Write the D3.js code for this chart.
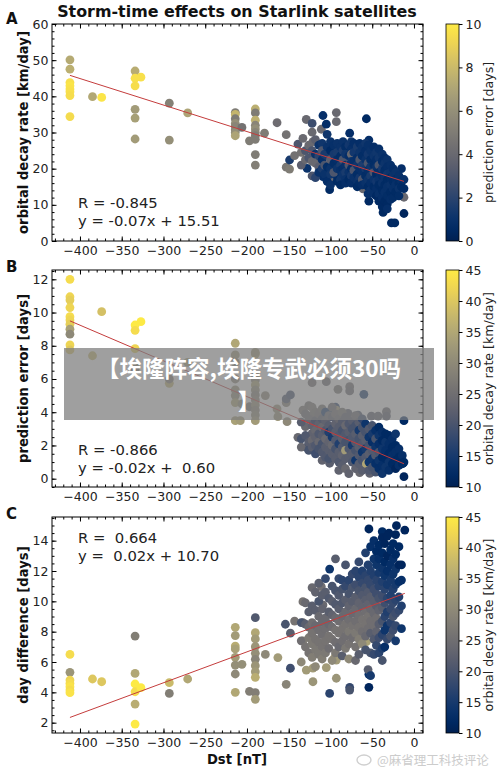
<!DOCTYPE html>
<html>
<head>
<meta charset="utf-8">
<script src="https://cdn.jsdelivr.net/npm/d3@7"></script>
<style>
body { margin: 0; background: #fff; }
svg { display: block; font-family: "DejaVu Sans", sans-serif; }
</style>
</head>
<body>
<svg id="fig" width="500" height="769"></svg>
<script>
// [Dst nT, orbital decay rate km/day, prediction error days]
const decayPoints = [
  [-412,50.1,7.3],[-412,47.5,7.5],[-412,43.8,9.6],[-412,42.9,9.8],[-412,42.0,9.7],[-412,41.3,9.6],[-412,40.2,9.5],[-412,34.4,9.4],
  [-385,39.9,7.2],[-374,39.7,9.8],
  [-334,47.0,7.4],[-334,45.0,9.6],[-334,42.9,9.5],[-334,36.4,6.6],[-334,34.0,6.8],[-334,28.2,6.6],[-327,45.3,9.6],
  [-293,38.1,5.3],[-293,27.9,6.0],[-271,35.4,7.0],
  [-214,35.5,5.0],[-214,35.0,7.8],[-214,33.8,5.0],[-214,32.5,6.0],[-214,31.7,5.5],[-214,30.7,5.5],[-214,30.0,6.0],[-214,29.1,7.0],[-206,31.4,4.5],
  [-197,27.7,5.0],
  [-190,36.5,7.5],[-190,35.4,5.0],[-190,33.4,7.6],[-190,32.0,5.5],[-190,31.0,6.0],[-190,30.0,5.5],[-190,29.1,5.0],[-190,28.1,5.0],[-190,23.9,5.0],[-190,21.0,5.2],
  [-179,29.8,5.0],[-164,32.7,4.2],[-153,29.4,4.5],[-153,20.4,4.8],[-149,19.9,5.0],[-149,22.4,1.5],[-143,23.6,4.5],[-139,26.8,3.0],[-133,28.4,4.0],
  [-129,33.6,4.0],[-128,20.1,1.0],[-122,32.5,2.5],[-122,30.1,4.0],[-121,27.5,4.0],[-111,30.9,4.0],[-109,34.7,0.8],[-105,32.3,0.7],
  [-109,17.8,0.8],[-101,17.1,4.0],[-101,14.2,0.6],[-93,35.5,4.0],[-93,33.0,4.0],[-92,17.8,0.8],
  [-77,29.8,0.8],[-57,33.8,0.5],[-54,27.9,0.8],[-61,14.4,4.0],[-54,11.0,0.5],[-37,7.9,0.5],[-27,5.0,0.5],[-23,5.0,0.5],
  [-12,7.6,0.3],[-12,12.1,4.0],[-15,20.0,0.8],
  [-135,24.5,4.5],[-135,21.0,3.5],[-130,25.0,3.0],[-130,22.5,4.0],[-126,26.5,4.0],[-126,23.0,3.0],
  [-122,25.0,3.0],[-122,22.0,4.0],[-122,18.0,3.0],[-118,28.0,3.5],[-118,24.0,1.0],[-118,21.5,4.0],[-118,17.5,2.0],
  [-114,26.5,1.0],[-114,23.5,2.0],[-114,20.5,3.5],[-114,19.0,1.0],[-110,27.0,1.2],[-110,25.0,3.0],[-110,22.5,0.8],[-110,20.0,1.5],
  [-107,24.0,1.5],[-107,21.0,3.0],[-107,18.5,1.0],[-104,29.5,1.2],[-104,26.0,1.0],[-104,23.5,1.5],[-104,20.5,0.7],[-104,16.5,0.8],
  [-100,27.5,1.0],[-100,25.0,0.6],[-100,22.5,3.5],[-100,20.0,1.0],[-100,18.5,1.2],[-100,15.5,1.0],
  [-96,26.5,0.9],[-96,24.0,1.4],[-96,21.5,0.7],[-96,19.0,3.0],[-92,27.0,1.0],[-92,24.5,1.5],[-92,22.5,0.8],[-92,20.0,1.1],[-92,16.5,0.6],
  [-88,26.0,1.0],[-88,23.5,0.7],[-88,21.0,1.5],[-88,19.5,0.9],[-88,17.0,1.2],[-88,15.5,0.6],
  [-85,27.5,1.0],[-85,25.0,1.6],[-85,22.5,3.0],[-85,20.0,0.8],[-85,18.5,1.1],
  [-82,26.0,0.7],[-82,24.0,1.2],[-82,21.0,0.9],[-82,19.0,1.5],[-82,17.0,1.0],[-82,16.0,0.8],
  [-78,26.5,1.3],[-78,23.5,0.8],[-78,21.0,3.0],[-78,19.0,1.0],[-78,17.0,0.6],
  [-75,27.5,1.2],[-75,25.5,0.9],[-75,24.0,4.0],[-75,22.0,1.1],[-75,20.0,0.7],[-75,18.0,1.4],[-75,16.0,0.8],
  [-72,27.0,0.8],[-72,24.5,1.3],[-72,22.0,0.9],[-72,19.5,3.0],[-72,17.5,1.0],
  [-68,26.0,1.5],[-68,23.0,0.8],[-68,21.0,1.2],[-68,18.5,0.7],[-68,16.5,1.0],[-68,15.0,0.6],
  [-65,27.0,0.8],[-65,24.5,1.1],[-65,22.5,3.0],[-65,20.0,0.9],[-65,17.5,1.3],[-65,16.0,0.7],
  [-62,26.0,1.0],[-62,23.5,0.7],[-62,21.0,1.6],[-62,19.0,0.9],[-62,17.0,3.0],[-62,15.5,0.8],
  [-58,27.0,1.2],[-58,25.0,0.8],[-58,22.5,1.0],[-58,20.0,1.4],[-58,18.0,0.7],[-58,16.0,1.0],
  [-55,26.5,0.9],[-55,24.0,1.3],[-55,21.5,3.0],[-55,19.5,0.8],[-55,17.0,1.1],[-55,15.0,0.6],[-55,13.0,0.9],
  [-52,25.0,1.0],[-52,22.5,0.7],[-52,20.5,1.2],[-52,18.0,1.5],[-52,16.0,0.8],[-52,14.0,1.0],
  [-48,26.0,0.8],[-48,23.5,1.1],[-48,21.0,0.7],[-48,19.0,3.0],[-48,17.0,1.0],[-48,15.0,0.6],[-48,13.0,0.9],
  [-45,24.5,1.2],[-45,22.5,0.8],[-45,20.5,1.0],[-45,18.5,0.6],[-45,16.5,1.3],[-45,14.5,0.8],[-45,12.5,0.5],
  [-42,25.5,0.9],[-42,23.0,1.2],[-42,21.0,3.0],[-42,19.0,0.8],[-42,17.0,1.0],[-42,15.5,0.6],[-42,13.0,0.9],[-42,11.0,0.5],
  [-38,24.0,1.0],[-38,22.0,0.7],[-38,20.0,1.4],[-38,18.0,0.8],[-38,16.0,1.0],[-38,14.0,0.6],[-38,12.0,0.8],[-38,9.5,0.5],
  [-35,23.0,0.8],[-35,21.5,1.1],[-35,19.5,0.7],[-35,17.5,1.0],[-35,15.5,0.6],[-35,13.5,0.9],[-35,11.0,0.5],
  [-32,22.5,1.0],[-32,20.5,0.8],[-32,18.5,1.2],[-32,17.0,0.6],[-32,15.0,0.9],[-32,12.5,0.7],[-32,10.2,0.5],[-32,8.9,0.8],
  [-28,21.0,0.9],[-28,19.0,1.1],[-28,17.5,0.7],[-28,15.5,1.0],[-28,13.5,0.6],[-28,11.5,0.8],
  [-25,20.0,0.8],[-25,18.0,1.0],[-25,16.5,0.6],[-25,14.5,0.9],[-25,12.0,0.7],
  [-22,19.0,1.0],[-22,17.0,0.7],[-22,15.5,0.9],[-22,13.5,0.6],
  [-18,18.0,0.9],[-18,16.0,0.6],[-18,14.5,1.0],[-18,12.5,0.7],
  [-15,16.5,0.8],[-15,15.0,0.6],[-12,17.0,0.9],[-12,14.5,0.6]
];

// [Dst nT, prediction error days, orbital decay rate km/day]
const errorPoints = [
  [-412,12.0,43],[-412,10.95,42],[-412,10.75,41],[-412,10.3,42],[-412,9.75,43],[-412,9.55,42],[-412,9.3,41],[-412,9.0,34],[-412,8.7,30],
  [-412,8.05,42],[-412,7.75,40],
  [-385,7.4,38],[-374,10.05,39],
  [-334,9.25,45],[-334,8.93,43],[-334,7.83,42],[-327,9.45,45],[-334,6.6,36],[-334,6.8,34],[-334,6.6,28],
  [-293,5.74,37],[-293,6.0,28],[-271,7.0,35],
  [-214,8.15,35],[-214,7.45,33],[-214,7.0,31],[-214,6.0,30],[-214,5.34,32],[-214,5.0,31],[-214,4.58,35],[-214,3.49,34],[-208,3.49,33],
  [-206,4.5,31],[-197,4.33,27],
  [-190,7.5,36],[-190,7.6,33],[-190,6.18,32],[-190,5.94,30],[-190,5.64,35],[-190,5.34,31],[-190,5.04,29],[-190,4.74,30],[-190,4.43,32],
  [-190,4.13,30],[-190,3.83,31],[-190,3.49,33],
  [-178,5.0,30],[-163,3.73,32],[-164,4.2,32],[-153,4.58,29],[-153,4.8,20],[-148,5.04,19],[-152,3.43,30],[-139,2.49,24],[-129,1.89,20],
  [-122,5.78,25],[-105,5.84,24],[-133,4.13,27],[-122,3.83,26],[-130,3.13,24],[-116,3.13,22],[-122,2.73,23],[-99,4.03,15],[-94,4.3,16],
  [-91,5.38,26],[-77,5.54,25],[-77,5.28,24],[-60,5.08,14],[-51,3.77,22],[-43,3.77,23],[-33,4.03,24],[-33,3.77,22],[-12,3.49,12],
  [-93,4.13,33],[-79,3.93,22],[-67,3.83,20],
  [-65,0.36,24],[-53,0.32,23],[-35,0.72,13],[-12,0.12,11],[-13,0.93,12],[-23,1.43,12],[-101,0.93,22],
  [-135,3.4,22],[-135,2.4,20],[-135,1.9,24],[-130,3.9,24],[-130,2.6,21],[-126,4.4,26],[-126,3.6,24],[-126,2.2,22],[-126,1.7,20],
  [-122,4.3,27],[-122,3.2,23],[-122,2.3,24],[-122,1.9,22],[-118,4.0,26],[-118,3.5,22],[-118,2.9,24],[-118,2.5,23],[-118,2.0,21],[-118,1.5,19],
  [-114,3.9,25],[-114,3.3,23],[-114,2.7,21],[-114,2.2,24],[-114,1.8,20],
  [-110,4.2,26],[-110,3.6,22],[-110,3.1,24],[-110,2.6,22],[-110,2.1,20],[-110,1.6,21],[-110,1.1,23],
  [-106,4.0,14],[-106,3.5,23],[-106,2.9,21],[-106,2.4,24],[-106,1.9,22],[-106,1.3,21],
  [-102,3.8,24],[-102,3.2,22],[-102,2.8,16],[-102,2.2,23],[-102,1.7,22],[-102,1.2,20],
  [-98,4.3,24],[-98,3.7,22],[-98,3.0,20],[-98,2.5,15],[-98,2.0,24],[-98,1.5,22],
  [-94,3.9,25],[-94,3.3,23],[-94,2.8,22],[-94,2.3,21],[-94,1.8,20],[-94,1.2,22],
  [-90,3.6,24],[-90,3.1,22],[-90,2.6,21],[-90,2.1,16],[-90,1.6,22],[-90,1.0,21],[-90,0.5,23],
  [-86,4.0,26],[-86,3.4,22],[-86,2.9,20],[-86,2.4,22],[-86,1.9,21],[-86,1.4,23],[-86,0.8,22],
  [-82,3.7,22],[-82,3.2,24],[-82,2.7,21],[-82,2.2,20],[-82,1.7,33],[-82,1.2,22],[-82,0.6,24],
  [-78,3.3,21],[-78,2.8,22],[-78,2.3,20],[-78,1.8,21],[-78,1.3,22],[-78,0.3,23],
  [-74,3.5,22],[-74,3.0,20],[-74,2.5,21],[-74,2.0,15],[-74,1.5,22],[-74,1.0,21],
  [-70,3.8,24],[-70,3.2,20],[-70,2.7,22],[-70,2.2,21],[-70,1.7,20],[-70,1.1,14],[-70,0.6,23],
  [-66,3.4,22],[-66,2.9,15],[-66,2.4,20],[-66,1.9,22],[-66,1.4,21],[-66,0.9,22],
  [-62,3.6,18],[-62,3.1,20],[-62,2.6,22],[-62,2.1,21],[-62,1.6,14],[-62,1.1,20],[-62,0.5,22],
  [-58,3.3,14],[-58,2.8,20],[-58,2.3,22],[-58,1.8,15],[-58,1.3,21],[-57,0.9,35],
  [-54,3.0,21],[-54,2.5,14],[-54,2.0,20],[-54,1.5,22],[-54,1.0,14],[-54,0.5,21],
  [-50,3.2,20],[-50,2.7,15],[-50,2.2,13],[-50,1.7,21],[-50,1.2,14],[-50,0.7,20],
  [-46,2.9,13],[-46,2.4,20],[-46,1.9,14],[-46,1.4,21],[-46,0.9,13],[-46,0.4,20],
  [-42,3.1,12],[-42,2.6,14],[-42,2.1,13],[-42,1.6,20],[-42,1.1,14],[-42,0.6,13],
  [-38,2.8,13],[-38,2.3,12],[-38,1.8,14],[-38,1.3,12],[-38,0.8,13],[-38,0.3,14],
  [-34,2.7,12],[-34,2.2,14],[-34,1.7,13],[-34,1.2,12],[-34,0.7,14],
  [-30,2.6,12],[-30,2.1,13],[-30,1.5,12],[-30,1.0,14],[-30,0.5,13],
  [-26,2.4,13],[-26,1.9,12],[-26,1.4,13],[-26,0.9,12],
  [-22,2.7,14],[-22,2.0,12],[-22,1.6,13],[-22,1.1,12],[-22,0.6,11],
  [-18,1.8,13],[-18,1.3,12],[-18,0.8,13],[-14,1.4,13],[-14,0.9,12],[-12,1.0,12]
];

// [Dst nT, day difference days, orbital decay rate km/day]
const diffPoints = [
  [-412,6.5,43],[-412,5.32,32],[-412,4.81,42],[-412,4.59,43],[-412,4.37,44],[-412,4.15,43],[-412,3.98,44],
  [-385,4.88,40],[-374,4.7,40],
  [-334,7.71,28],[-334,5.25,35],[-334,4.55,45],[-334,4.04,43],[-334,3.23,36],[-334,1.91,45],[-327,4.31,45],
  [-293,4.64,38],[-293,3.93,28],[-271,4.88,35],
  [-214,8.29,35],[-214,7.74,33],[-214,7.05,36],[-214,6.86,34],[-214,6.31,33],[-214,5.8,31],[-214,5.21,30],[-214,4.0,35],[-206,5.85,31],
  [-197,4.07,28],
  [-190,8.92,21],[-190,7.93,35],[-190,7.52,33],[-190,7.01,32],[-190,6.57,31],[-190,6.18,29],[-190,5.76,32],[-190,5.36,33],[-190,4.99,36],
  [-190,3.98,28],[-190,3.54,33],
  [-178,6.5,30],[-163,6.29,33],[-153,4.53,29],[-154,8.49,20],[-148,5.59,19],[-148,7.9,22],
  [-143,8.7,26],[-133,8.6,25],[-133,9.98,26],[-133,7.39,29],[-129,5.47,33],[-121,4.7,32],[-121,5.6,33],[-105,5.63,33],[-95,6.29,33],
  [-93,4.93,32],[-93,6.13,33],[-101,3.93,17],[-101,12.13,14],[-77,4.33,18],[-77,4.15,20],[-54,4.33,11],[-54,5.19,13],[-57,7.34,34],
  [-111,10.97,25],[-109,9.76,24],
  [-54,14.77,11],[-21,14.99,11],[-11,14.7,11],[-38,14.6,12],[-30,14.5,11],
  [-135,8.6,20],[-135,7.4,25],[-135,6.0,30],[-130,9.9,24],[-130,8.5,22],[-130,7.0,26],[-126,9.3,22],[-126,8.3,24],[-126,7.6,27],[-126,6.6,26],
  [-122,10.9,24],[-122,9.7,22],[-122,8.6,25],[-122,7.9,26],[-122,7.2,27],[-122,6.3,28],
  [-118,10.6,23],[-118,9.4,22],[-118,8.4,24],[-118,7.5,26],[-118,6.8,27],[-118,5.7,30],
  [-114,11.2,22],[-114,10.0,20],[-114,9.0,24],[-114,8.1,25],[-114,7.3,26],[-114,6.5,27],
  [-110,10.4,22],[-110,9.5,23],[-110,8.6,24],[-110,7.8,25],[-110,7.0,26],[-110,6.2,28],
  [-106,11.5,18],[-106,10.6,22],[-106,8.9,24],[-106,8.2,25],[-106,7.4,26],[-106,6.6,27],
  [-102,10.2,21],[-102,9.3,22],[-102,8.5,24],[-102,7.7,26],[-102,6.9,25],
  [-98,11.0,20],[-98,10.0,22],[-98,9.1,23],[-98,8.3,25],[-98,7.5,26],[-98,6.1,30],
  [-94,12.8,22],[-94,10.7,20],[-94,9.8,21],[-94,8.9,24],[-94,8.1,26],[-94,7.3,25],[-94,6.6,27],
  [-90,11.5,18],[-90,10.4,21],[-90,9.5,22],[-90,8.7,25],[-90,7.9,26],[-90,7.0,24],
  [-86,11.4,17],[-86,10.8,20],[-86,9.9,21],[-86,9.0,24],[-86,8.2,26],[-86,7.4,25],[-86,6.4,22],
  [-82,12.4,20],[-82,11.0,18],[-82,10.1,22],[-82,9.3,24],[-82,8.5,26],[-82,7.7,25],[-82,6.9,27],
  [-78,11.4,17],[-78,10.5,20],[-78,9.7,23],[-78,8.8,25],[-78,8.0,27],[-78,7.2,26],[-78,6.2,30],
  [-74,11.8,18],[-74,10.9,20],[-74,10.0,22],[-74,9.2,24],[-74,8.4,26],[-74,7.6,25],
  [-70,12.0,17],[-70,11.1,19],[-70,10.3,22],[-70,9.5,24],[-70,8.7,25],[-70,7.9,27],[-70,7.0,26],[-70,6.1,24],
  [-66,12.6,18],[-66,11.6,17],[-66,10.7,20],[-66,9.9,23],[-66,9.1,25],[-66,8.3,26],[-66,7.5,28],[-66,6.5,22],
  [-62,12.0,16],[-62,11.2,18],[-62,10.4,21],[-62,9.6,23],[-62,8.8,26],[-62,8.0,25],[-62,7.2,30],
  [-58,13.2,16],[-58,11.7,17],[-58,10.9,20],[-58,10.1,22],[-58,9.3,25],[-58,8.5,26],[-58,7.7,24],[-58,6.8,20],
  [-55,12.4,16],[-55,11.4,18],[-55,10.6,21],[-55,9.8,23],[-55,9.0,26],[-55,8.2,25],[-55,5.5,22],
  [-52,13.6,13],[-52,12.0,16],[-52,11.1,18],[-52,10.3,22],[-52,9.5,24],[-52,8.7,25],[-52,7.9,22],[-52,6.6,20],[-52,5.1,15],
  [-48,14.0,13],[-48,12.8,14],[-48,11.7,16],[-48,10.8,19],[-48,10.0,22],[-48,9.2,24],[-48,8.4,25],[-48,7.5,21],[-48,6.5,18],
  [-45,13.3,12],[-45,12.4,14],[-45,11.4,17],[-45,10.5,19],[-45,9.7,22],[-45,8.9,25],[-45,8.0,23],[-45,7.1,18],
  [-42,13.7,12],[-42,12.8,13],[-42,11.9,15],[-42,11.0,17],[-42,10.2,20],[-42,9.4,23],[-42,8.5,22],[-42,7.6,19],[-42,6.6,17],
  [-38,14.2,11],[-38,13.2,12],[-38,12.2,14],[-38,11.3,16],[-38,10.4,19],[-38,9.6,22],[-38,8.7,20],[-38,7.8,17],[-38,6.9,16],[-38,6.1,20],
  [-35,13.8,11],[-35,12.6,12],[-35,11.7,14],[-35,10.8,17],[-35,9.9,19],[-35,9.0,17],[-35,8.1,14],[-35,7.0,13],
  [-32,14.3,11],[-32,13.0,11],[-32,12.0,13],[-32,11.1,15],[-32,10.2,17],[-32,9.3,16],[-32,8.4,14],[-32,7.5,18],
  [-28,13.4,12],[-28,12.4,13],[-28,11.4,15],[-28,10.4,16],[-28,9.5,18],[-28,8.6,17],[-28,7.7,20],
  [-25,13.8,12],[-25,12.8,13],[-25,11.8,14],[-25,10.8,16],[-25,9.9,18],[-25,9.0,20],[-25,8.1,19],
  [-22,14.4,11],[-22,13.1,12],[-22,12.1,14],[-22,11.1,15],[-22,10.1,17],[-22,9.2,19],[-22,8.4,18],[-22,7.4,15],
  [-18,13.6,12],[-18,12.4,11],[-18,11.3,13],[-18,10.3,16],[-18,9.4,18],
  [-15,12.4,11],[-15,11.4,13],[-15,9.7,16],[-15,8.2,14]
];

const dstTicks = [-400, -350, -300, -250, -200, -150, -100, -50, 0];
const decayTicks = [0, 10, 20, 30, 40, 50, 60];
const errorTicks = [0, 2, 4, 6, 8, 10, 12];
const diffTicks = [2, 4, 6, 8, 10, 12, 14];
const errorBarTicks = [0, 2, 4, 6, 8, 10];
const decayBarTicks = [10, 15, 20, 25, 30, 35, 40, 45];

// linear fits: [slope, intercept] and the printed labels
const fitDecay = [-0.0733, 15.6];
const fitError = [-0.0215, 0.64];
const fitDiff = [0.0204, 10.75];
const labelsDecay = ["R = -0.845", "y = -0.07x + 15.51"];
const labelsError = ["R = -0.866", "y = -0.02x +  0.60"];
const labelsDiff = ["R =  0.664", "y =  0.02x + 10.70"];

const svg = d3.select("#fig");
const x = d3.scaleLinear().domain([-433.5, 10.8]).range([52, 423]);
const tickFont = 12.5;

const panels = [
  { letter: "A", letterY: 24, top: 24, bottom: 241, yDomain: [0, 60], yTicks: decayTicks, yMinor: 2,
    ylabel: "orbital decay rate [km/day]", data: decayPoints, cDomain: [0, 10], cTicks: errorBarTicks,
    clabel: "prediction error [days]", fit: fitDecay, labels: labelsDecay, labelY: 208 },
  { letter: "B", letterY: 272, top: 270, bottom: 487, yDomain: [-0.5, 12.56], yTicks: errorTicks, yMinor: 0.5,
    ylabel: "prediction error [days]", data: errorPoints, cDomain: [10, 45], cTicks: decayBarTicks,
    clabel: "orbital decay rate [km/day]", fit: fitError, labels: labelsError, labelY: 455 },
  { letter: "C", letterY: 519, top: 517, bottom: 733, yDomain: [1.32, 15.56], yTicks: diffTicks, yMinor: 0.5,
    ylabel: "day difference [days]", data: diffPoints, cDomain: [10, 45], cTicks: decayBarTicks,
    clabel: "orbital decay rate [km/day]", fit: fitDiff, labels: labelsDiff, labelY: 543 }
];

function styleAxis(g) {
  g.select(".domain").remove();
  g.attr("font-size", tickFont).attr("font-family", "DejaVu Sans").attr("color", "#000");
  g.selectAll("text").attr("fill", "#222");
}

function minorValues(domain, step) {
  const lo = Math.ceil(domain[0] / step - 1e-9) * step;
  return d3.range(lo, domain[1] + 1e-9, step);
}

panels.forEach((p, i) => {
  const y = d3.scaleLinear().domain(p.yDomain).range([p.bottom, p.top]);
  const color = d3.scaleSequential(d3.interpolateCividis).domain(p.cDomain).clamp(true);
  const g = svg.append("g");

  // points
  g.append("g").selectAll("circle")
    .data(p.data)
    .join("circle")
    .attr("cx", d => x(d[0]))
    .attr("cy", d => y(d[1]))
    .attr("r", 4.4)
    .attr("fill", d => color(d[2]));

  // regression line across the data range
  const ext = d3.extent(p.data, d => d[0]);
  g.append("line")
    .attr("x1", x(ext[0])).attr("y1", y(p.fit[0] * ext[0] + p.fit[1]))
    .attr("x2", x(ext[1])).attr("y2", y(p.fit[0] * ext[1] + p.fit[1]))
    .attr("stroke", "#c43c3c").attr("stroke-width", 1);

  // ticks, all pointing inwards
  const xMinor = minorValues(x.domain(), 10);
  const yMinor = minorValues(p.yDomain, p.yMinor);
  g.append("g").attr("transform", `translate(0,${p.bottom})`)
    .call(d3.axisBottom(x).tickValues(dstTicks).tickSize(-4.5).tickSizeOuter(0).tickPadding(5)).call(styleAxis);
  g.append("g").attr("transform", `translate(0,${p.bottom})`)
    .call(d3.axisBottom(x).tickValues(xMinor).tickSize(-2.5).tickSizeOuter(0).tickFormat("")).call(styleAxis);
  g.append("g").attr("transform", `translate(0,${p.top})`)
    .call(d3.axisTop(x).tickValues(dstTicks).tickSize(-4.5).tickSizeOuter(0).tickFormat("")).call(styleAxis);
  g.append("g").attr("transform", `translate(0,${p.top})`)
    .call(d3.axisTop(x).tickValues(xMinor).tickSize(-2.5).tickSizeOuter(0).tickFormat("")).call(styleAxis);
  g.append("g").attr("transform", `translate(52,0)`)
    .call(d3.axisLeft(y).tickValues(p.yTicks).tickSize(-4.5).tickSizeOuter(0).tickPadding(3.5)).call(styleAxis);
  g.append("g").attr("transform", `translate(52,0)`)
    .call(d3.axisLeft(y).tickValues(yMinor).tickSize(-2.5).tickSizeOuter(0).tickFormat("")).call(styleAxis);
  g.append("g").attr("transform", `translate(423,0)`)
    .call(d3.axisRight(y).tickValues(p.yTicks).tickSize(-4.5).tickSizeOuter(0).tickFormat("")).call(styleAxis);
  g.append("g").attr("transform", `translate(423,0)`)
    .call(d3.axisRight(y).tickValues(yMinor).tickSize(-2.5).tickSizeOuter(0).tickFormat("")).call(styleAxis);

  g.append("rect")
    .attr("x", 52).attr("y", p.top).attr("width", 371).attr("height", p.bottom - p.top)
    .attr("fill", "none").attr("stroke", "#000").attr("stroke-width", 1);

  // y label
  g.append("text")
    .attr("transform", `translate(28,${(p.top + p.bottom) / 2}) rotate(-90)`)
    .attr("text-anchor", "middle")
    .attr("font-weight", "bold").attr("font-size", 13.2).attr("fill", "#111")
    .text(p.ylabel);

  // panel letter
  g.append("text").attr("x", 6).attr("y", p.letterY)
    .attr("font-weight", "bold").attr("font-size", 15).attr("fill", "#111").text(p.letter);

  // R and fit equation
  g.append("g").selectAll("text")
    .data(p.labels)
    .join("text")
    .attr("x", 78).attr("y", (d, k) => p.labelY + k * 17.5)
    .attr("font-size", 14.8).attr("fill", "#222")
    .style("white-space", "pre")
    .text(d => d);

  // colour bar
  const gid = "cbar" + i;
  const grad = svg.append("defs").append("linearGradient").attr("id", gid)
    .attr("x1", 0).attr("y1", 1).attr("x2", 0).attr("y2", 0);
  d3.range(0, 1.0001, 0.05).forEach(t => {
    grad.append("stop").attr("offset", t).attr("stop-color", d3.interpolateCividis(t));
  });
  const cy = d3.scaleLinear().domain(p.cDomain).range([p.bottom, p.top]);
  g.append("rect")
    .attr("x", 446).attr("y", p.top).attr("width", 13).attr("height", p.bottom - p.top)
    .attr("fill", `url(#${gid})`).attr("stroke", "#000").attr("stroke-width", 0.8);
  g.append("g").attr("transform", "translate(459,0)")
    .call(d3.axisRight(cy).tickValues(p.cTicks).tickSize(3.5).tickSizeOuter(0).tickPadding(3)).call(styleAxis);
  g.append("text")
    .attr("transform", `translate(493,${(p.top + p.bottom) / 2}) rotate(-90)`)
    .attr("text-anchor", "middle").attr("font-size", 12.6).attr("fill", "#222")
    .text(p.clabel);
});

// title and x label
svg.append("text").attr("x", 237).attr("y", 17).attr("text-anchor", "middle")
  .attr("font-weight", "bold").attr("font-size", 15.9).attr("fill", "#111")
  .text("Storm-time effects on Starlink satellites");
svg.append("text").attr("x", 237).attr("y", 764).attr("text-anchor", "middle")
  .attr("font-weight", "bold").attr("font-size", 13.2).attr("fill", "#111")
  .text("Dst [nT]");

// overlay banner
svg.append("rect").attr("x", 64).attr("y", 348).attr("width", 370).attr("height", 72)
  .attr("fill", "#7f7f7f").attr("opacity", 0.75);
const banner = svg.append("g").attr("font-family", "Noto Sans CJK SC").attr("font-weight", "bold")
  .attr("font-size", 22.5).attr("fill", "#fff").attr("text-anchor", "middle");
banner.append("text").attr("x", 249).attr("y", 377).text("【埃隆阵容,埃隆专武必须30吗");
banner.append("text").attr("x", 249).attr("y", 410).text("】");

// watermark
const wm = svg.append("g").attr("fill", "none").attr("stroke", "#cfcfcf");
wm.append("ellipse").attr("cx", 364).attr("cy", 760).attr("rx", 7).attr("ry", 5).attr("stroke-width", 1.4);
svg.append("text").attr("x", 377).attr("y", 765)
  .attr("font-family", "Noto Sans CJK SC").attr("font-size", 12.5).attr("fill", "#cccccc")
  .text("@麻省理工科技评论");
</script>
</body>
</html>
